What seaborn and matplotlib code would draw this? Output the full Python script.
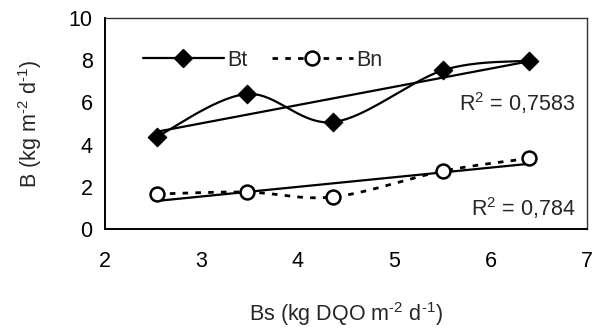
import numpy as np
import pandas as pd
import matplotlib
matplotlib.use('Agg')
import matplotlib.pyplot as plt
from matplotlib.lines import Line2D
import seaborn as sns

# values
bs = [2.54, 3.47, 4.37, 5.51, 6.40]
bt = [4.38, 6.40, 5.07, 7.53, 7.98]
bn = [1.66, 1.75, 1.52, 2.75, 3.35]
r2_labels = ['R$^2$ = 0,7583', 'R$^2$ = 0,784']


def smooth(x, y, n=40):
    # Catmull-Rom style curve, similar to a spreadsheet "smoothed line"
    x = np.asarray(x, float)
    y = np.asarray(y, float)
    px = np.concatenate([[x[0]], x, [x[-1]]])
    py = np.concatenate([[y[0]], y, [y[-1]]])
    xs, ys = [], []
    t = np.linspace(0, 1, n)
    for i in range(1, len(px) - 2):
        p0, p1, p2, p3 = px[i - 1], px[i], px[i + 1], px[i + 2]
        q0, q1, q2, q3 = py[i - 1], py[i], py[i + 1], py[i + 2]
        c1x, c1y = p1 + (p2 - p0) / 6, q1 + (q2 - q0) / 6
        c2x, c2y = p2 - (p3 - p1) / 6, q2 - (q3 - q1) / 6
        bx = (1 - t)**3 * p1 + 3 * (1 - t)**2 * t * c1x + 3 * (1 - t) * t**2 * c2x + t**3 * p2
        by = (1 - t)**3 * q1 + 3 * (1 - t)**2 * t * c1y + 3 * (1 - t) * t**2 * c2y + t**3 * q2
        xs.extend(bx)
        ys.extend(by)
    return np.array(xs), np.array(ys)


sns.set_style("white")
plt.rcParams['font.family'] = ['Liberation Sans', 'DejaVu Sans']
plt.rcParams['mathtext.fontset'] = 'custom'
plt.rcParams['mathtext.rm'] = 'Liberation Sans'
plt.rcParams['mathtext.it'] = 'Liberation Sans'

fig = plt.figure(figsize=(5.95, 3.29), dpi=100)
ax = fig.add_axes([0.1765, 0.304, 0.81, 0.641])

fs = 15.5
df = pd.DataFrame({'Bs': bs, 'Bt': bt, 'Bn': bn})

# smoothed series lines
sx, sy = smooth(bs, bt)
ax.plot(sx, sy, color='black', lw=1.6)
sx, sy = smooth(bs, bn)
ax.plot(sx, sy, color='black', lw=2.0, dashes=(2, 2.6))

# linear trendlines
sns.regplot(data=df, x='Bs', y='Bt', scatter=False, ci=None, truncate=True,
            line_kws={'color': 'black', 'lw': 1.6}, ax=ax)
sns.regplot(data=df, x='Bs', y='Bn', scatter=False, ci=None, truncate=True,
            line_kws={'color': 'black', 'lw': 1.6}, ax=ax)

# markers
sns.scatterplot(data=df, x='Bs', y='Bt', marker='D', s=90, color='black',
                edgecolor='black', zorder=5, ax=ax)
ax.plot(bs, bn, linestyle='none', marker='o', markersize=10,
        markerfacecolor='white', markeredgecolor='black', markeredgewidth=1.8, zorder=5)

ax.text(6.88, 5.97, r2_labels[0], fontsize=fs, ha='right', va='center')
ax.text(6.88, 1.0, r2_labels[1], fontsize=fs, ha='right', va='center')

ax.set_xlim(2, 7)
ax.set_ylim(0, 10)
ax.set_xticks([2, 3, 4, 5, 6, 7])
ax.set_yticks([0, 2, 4, 6, 8, 10])
ax.tick_params(axis='both', direction='out', length=6, width=1.2, labelsize=fs,
               colors='black', pad=10)
ax.tick_params(axis='y', pad=3)
for side in ['left', 'bottom']:
    ax.spines[side].set_linewidth(1.4)
    ax.spines[side].set_color('black')
for side in ['top', 'right']:
    ax.spines[side].set_linewidth(1.0)
    ax.spines[side].set_color('#333333')

ax.set_xlabel('Bs (kg DQO m$^{\u2010 2}$ d$^{\u2010 1}$)', fontsize=fs, labelpad=20)
ax.set_ylabel('B (kg m$^{\u2010 2}$ d$^{\u2010 1}$)', fontsize=fs, labelpad=18)

handles = [
    Line2D([], [], color='black', lw=1.6, marker='D', markersize=9.5),
    Line2D([], [], color='black', lw=2.0, dashes=(2, 2.6), marker='o', markersize=10,
           markerfacecolor='white', markeredgewidth=1.8),
]
ax.legend(handles, ['Bt', 'Bn'], loc='upper left', bbox_to_anchor=(0.06, 0.89),
          ncol=2, frameon=False, fontsize=fs, handlelength=3.8, handletextpad=0.15,
          columnspacing=1.1, borderaxespad=0)

fig.savefig('out.png', dpi=100)
